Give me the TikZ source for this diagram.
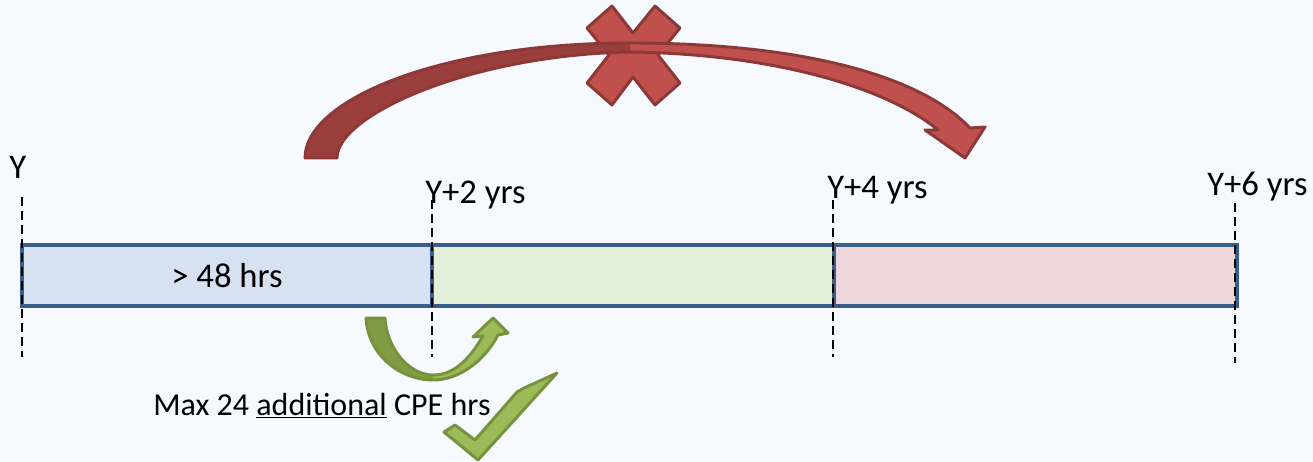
\documentclass[tikz,border=0pt]{standalone}
\usepackage{fontspec}
\setmainfont{Carlito}
\definecolor{bg}{RGB}{246,249,254}
\definecolor{barline}{RGB}{58,94,138}
\definecolor{fblue}{RGB}{214,225,241}
\definecolor{fgreen}{RGB}{226,240,218}
\definecolor{fpink}{RGB}{237,215,218}
\definecolor{rdark}{RGB}{154,62,61}
\definecolor{rlight}{RGB}{192,80,77}
\definecolor{rline}{RGB}{140,56,54}
\definecolor{gdark}{RGB}{127,155,67}
\definecolor{glight}{RGB}{155,187,89}
\definecolor{gline}{RGB}{118,146,60}
\begin{document}
\begin{tikzpicture}[x=0.75pt,y=-0.75pt,
  lbl/.style={anchor=base west, inner sep=0pt, font=\fontsize{26}{30}\selectfont},
  lblsmall/.style={anchor=base west, inner sep=0pt, font=\fontsize{24}{28}\selectfont},
  seg/.style={draw=barline, line width=3.4pt, minimum height=45.75pt, inner sep=0pt, outer sep=0pt, font=\fontsize{26}{30}\selectfont},
  tick/.style={black, line width=1.2pt, dash pattern=on 6.5pt off 4pt},
  shapeline/.style={line width=2.2pt, line join=round}]
\fill[bg] (0,0) rectangle (1313,461);
\useasboundingbox (0,0) rectangle (1313,461);

% timeline bar
\node[seg, fill=fblue, minimum width=307.5pt] (s1) at (227,275.5) {> 48 hrs};
\node[seg, fill=fgreen, minimum width=301.5pt] (s2) at (633,275.5) {};
\node[seg, fill=fpink, minimum width=302.25pt] (s3) at (1035.5,275.5) {};

% labels
\node[lbl] (ly) at (9,178) {Y};
\node[lbl] (ly2) at (425,203) {Y+2 yrs};
\node[lbl] (ly4) at (827,198) {Y+4 yrs};
\node[lbl] (ly6) at (1207,195) {Y+6 yrs};

% ticks
\coordinate (t0a) at (22,197);   \coordinate (t0b) at (22,357);
\coordinate (t2a) at (432,200);  \coordinate (t2b) at (432,357);
\coordinate (t4a) at (833,200);  \coordinate (t4b) at (833,357);
\coordinate (t6a) at (1235,203); \coordinate (t6b) at (1235,363);
\draw[tick] (t0a) -- (t0b);
\draw[tick] (t2a) -- (t2b);
\draw[tick] (t4a) -- (t4b);
\draw[tick] (t6a) -- (t6b);

% red cross
\filldraw[fill=rlight, draw=rline, shapeline]
  (587,28) -- (612,6) -- (633,33) -- (655,6) -- (680,28) -- (658,55) -- (680,83)
  -- (655,105) -- (633,77) -- (612,105) -- (587,83) -- (609,55) -- cycle;

% red curved arrow
\fill[rdark] (305,158) .. controls (305,100) and (440,43) .. (630,43) -- (630,52)
  .. controls (470,55) and (337,115) .. (337,158) -- cycle;
\fill[rlight] (630,43) .. controls (800,43) and (920,75) .. (970,128) -- (985,127)
  -- (965,158) -- (925,130) -- (938,130) .. controls (890,90) and (780,54) .. (630,52) -- cycle;
\draw[rline, shapeline] (305,158) .. controls (305,100) and (440,43) .. (630,43)
  .. controls (800,43) and (920,75) .. (970,128) -- (985,127) -- (965,158) -- (925,130)
  -- (938,130) .. controls (890,90) and (780,54) .. (630,52)
  .. controls (470,55) and (337,115) .. (337,158) -- cycle;

% green curved arrow
\fill[gdark] (366,318) .. controls (368,355) and (400,380) .. (433,380) -- (433,375)
  .. controls (410,375) and (387,350) .. (385,318) -- cycle;
\fill[glight] (433,380) .. controls (460,380) and (485,360) .. (498,335) -- (508,333)
  -- (493,318) -- (473,337) -- (483,336) .. controls (470,358) and (455,375) .. (433,375) -- cycle;
\draw[gline, shapeline] (366,318) .. controls (368,355) and (400,380) .. (433,380)
  .. controls (460,380) and (485,360) .. (498,335) -- (508,333) -- (493,318) -- (473,337)
  -- (483,336) .. controls (470,358) and (455,375) .. (433,375)
  .. controls (410,375) and (387,350) .. (385,318) -- cycle;

% bottom label
\node[lblsmall] (lmax) at (153,415) {Max 24 \underline{additional} CPE hrs};

% check mark
\filldraw[fill=glight, draw=gline, shapeline]
  (444,432) -- (455,425) -- (475,440) -- (517,392) -- (524,388) -- (557,373)
  -- (478,460) -- cycle;
\end{tikzpicture}
\end{document}
